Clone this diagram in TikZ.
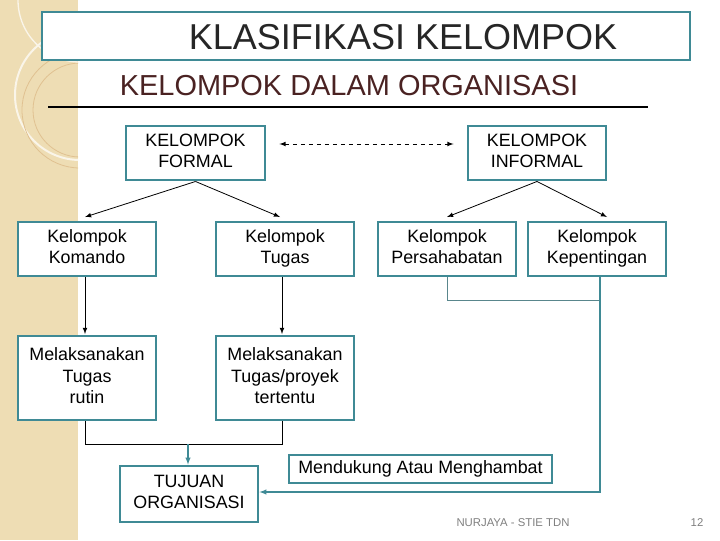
\documentclass[tikz,border=0pt]{standalone}
\usepackage{fontspec}
\setmainfont{Liberation Sans}
\usetikzlibrary{calc}
\begin{document}
\begin{tikzpicture}[x=0.75pt,y=-0.75pt,
  bx/.style={line width=2.2pt,fill=white,align=center,inner sep=0pt,font=\fontsize{13.4}{16}\selectfont},
  ln/.style={line width=0.6pt,draw=black}]
\definecolor{strip}{HTML}{EEDDB4}
\definecolor{tealb}{HTML}{3F8A95}
\definecolor{brn}{HTML}{4A2222}
\useasboundingbox (0,0) rectangle (720,540);
\fill[white] (0,0) rectangle (720,540);
\fill[strip] (0,0) rectangle (78,540);
\begin{scope}
\clip (0,0) rectangle (78,540);
\draw[white!70!strip,line width=1.5pt] (80,95) circle (65);
\draw[brown!30!strip,line width=0.6pt] (80,110) circle (58);
\draw[brown!30!strip,line width=0.6pt] (80,110) circle (47);
\draw[white!70!strip,line width=1pt] (80,0) circle (62);
\end{scope}
\node[bx,draw=tealb,minimum width=486pt,minimum height=36pt] (title) at (366,36) {};
\node[font=\fontsize{27}{30}\selectfont,text=black!85] (tt) at (403,37) {KLASIFIKASI KELOMPOK};
\node[text=brn,font=\fontsize{21.7}{24}\selectfont] (sub) at (349,86) {KELOMPOK DALAM ORGANISASI};
\coordinate (l1) at (48,107); \coordinate (l2) at (648,107);
\draw[line width=2pt] (l1) -- (l2);
\tikzset{b/.style={bx,draw=tealb,minimum width=103.5pt,minimum height=40.5pt}}
\node[b,minimum width=104.25pt] (formal) at (195.5,153) {KELOMPOK\strut\\FORMAL\strut};
\node[b] (informal) at (537,153) {KELOMPOK\strut\\INFORMAL\strut};
\draw[ln,dashed,<->,>=latex] ($(formal.east)+(13,-9)$) coordinate (da) -- ($(informal.west)+(-13,-9)$) coordinate (db);
\node[b] (kom) at (87,249) {Kelompok\strut\\Komando\strut};
\node[b] (tug) at (285,249) {Kelompok\strut\\Tugas\strut};
\node[b] (per) at (447,249) {Kelompok\strut\\Persahabatan\strut};
\node[b] (kep) at (597,249) {Kelompok\strut\\Kepentingan\strut};
\node[b,minimum height=63pt] (rut) at (87,378) {Melaksanakan\strut\\Tugas\strut\\rutin\strut};
\node[b,minimum height=63pt] (pro) at (285,378) {Melaksanakan\strut\\Tugas/proyek\strut\\tertentu\strut};
\node[b,minimum height=42pt] (tuj) at (189,494) {TUJUAN\strut\\ORGANISASI\strut};
\node[bx,draw=tealb,minimum width=197.25pt,minimum height=21pt] (men) at (420.5,469) {Mendukung Atau Menghambat};
\tikzset{a/.style={ln,->,>=latex}}
\draw[a] (formal.south) -- (85,217);
\draw[a] (formal.south) -- (280,217);
\draw[a] (informal.south) -- (447,217);
\draw[a] (informal.south) -- (607,217);
\draw[a] (kom.south -| 85,0) -- (85,334);
\draw[a] (tug.south -| 282,0) -- (282,334);
\draw[ln] (rut.south -| 85,0) |- (282,444) -- (pro.south -| 282,0);
\draw[a,draw=tealb,line width=0.8pt] (188,444) -- (tuj.north -| 188,0);
\draw[line width=0.6pt,draw=tealb!60!gray] (per.south) |- (600,300);
\draw[a,draw=tealb,line width=0.8pt] (kep.south -| 600,0) |- (tuj.east |- 0,492);
\node[text=gray,font=\fontsize{8.5}{10}\selectfont] (foot) at (513,523) {NURJAYA - STIE TDN};
\node[text=gray,font=\fontsize{8.5}{10}\selectfont] (pg) at (697,523) {12};
\end{tikzpicture}
\end{document}
